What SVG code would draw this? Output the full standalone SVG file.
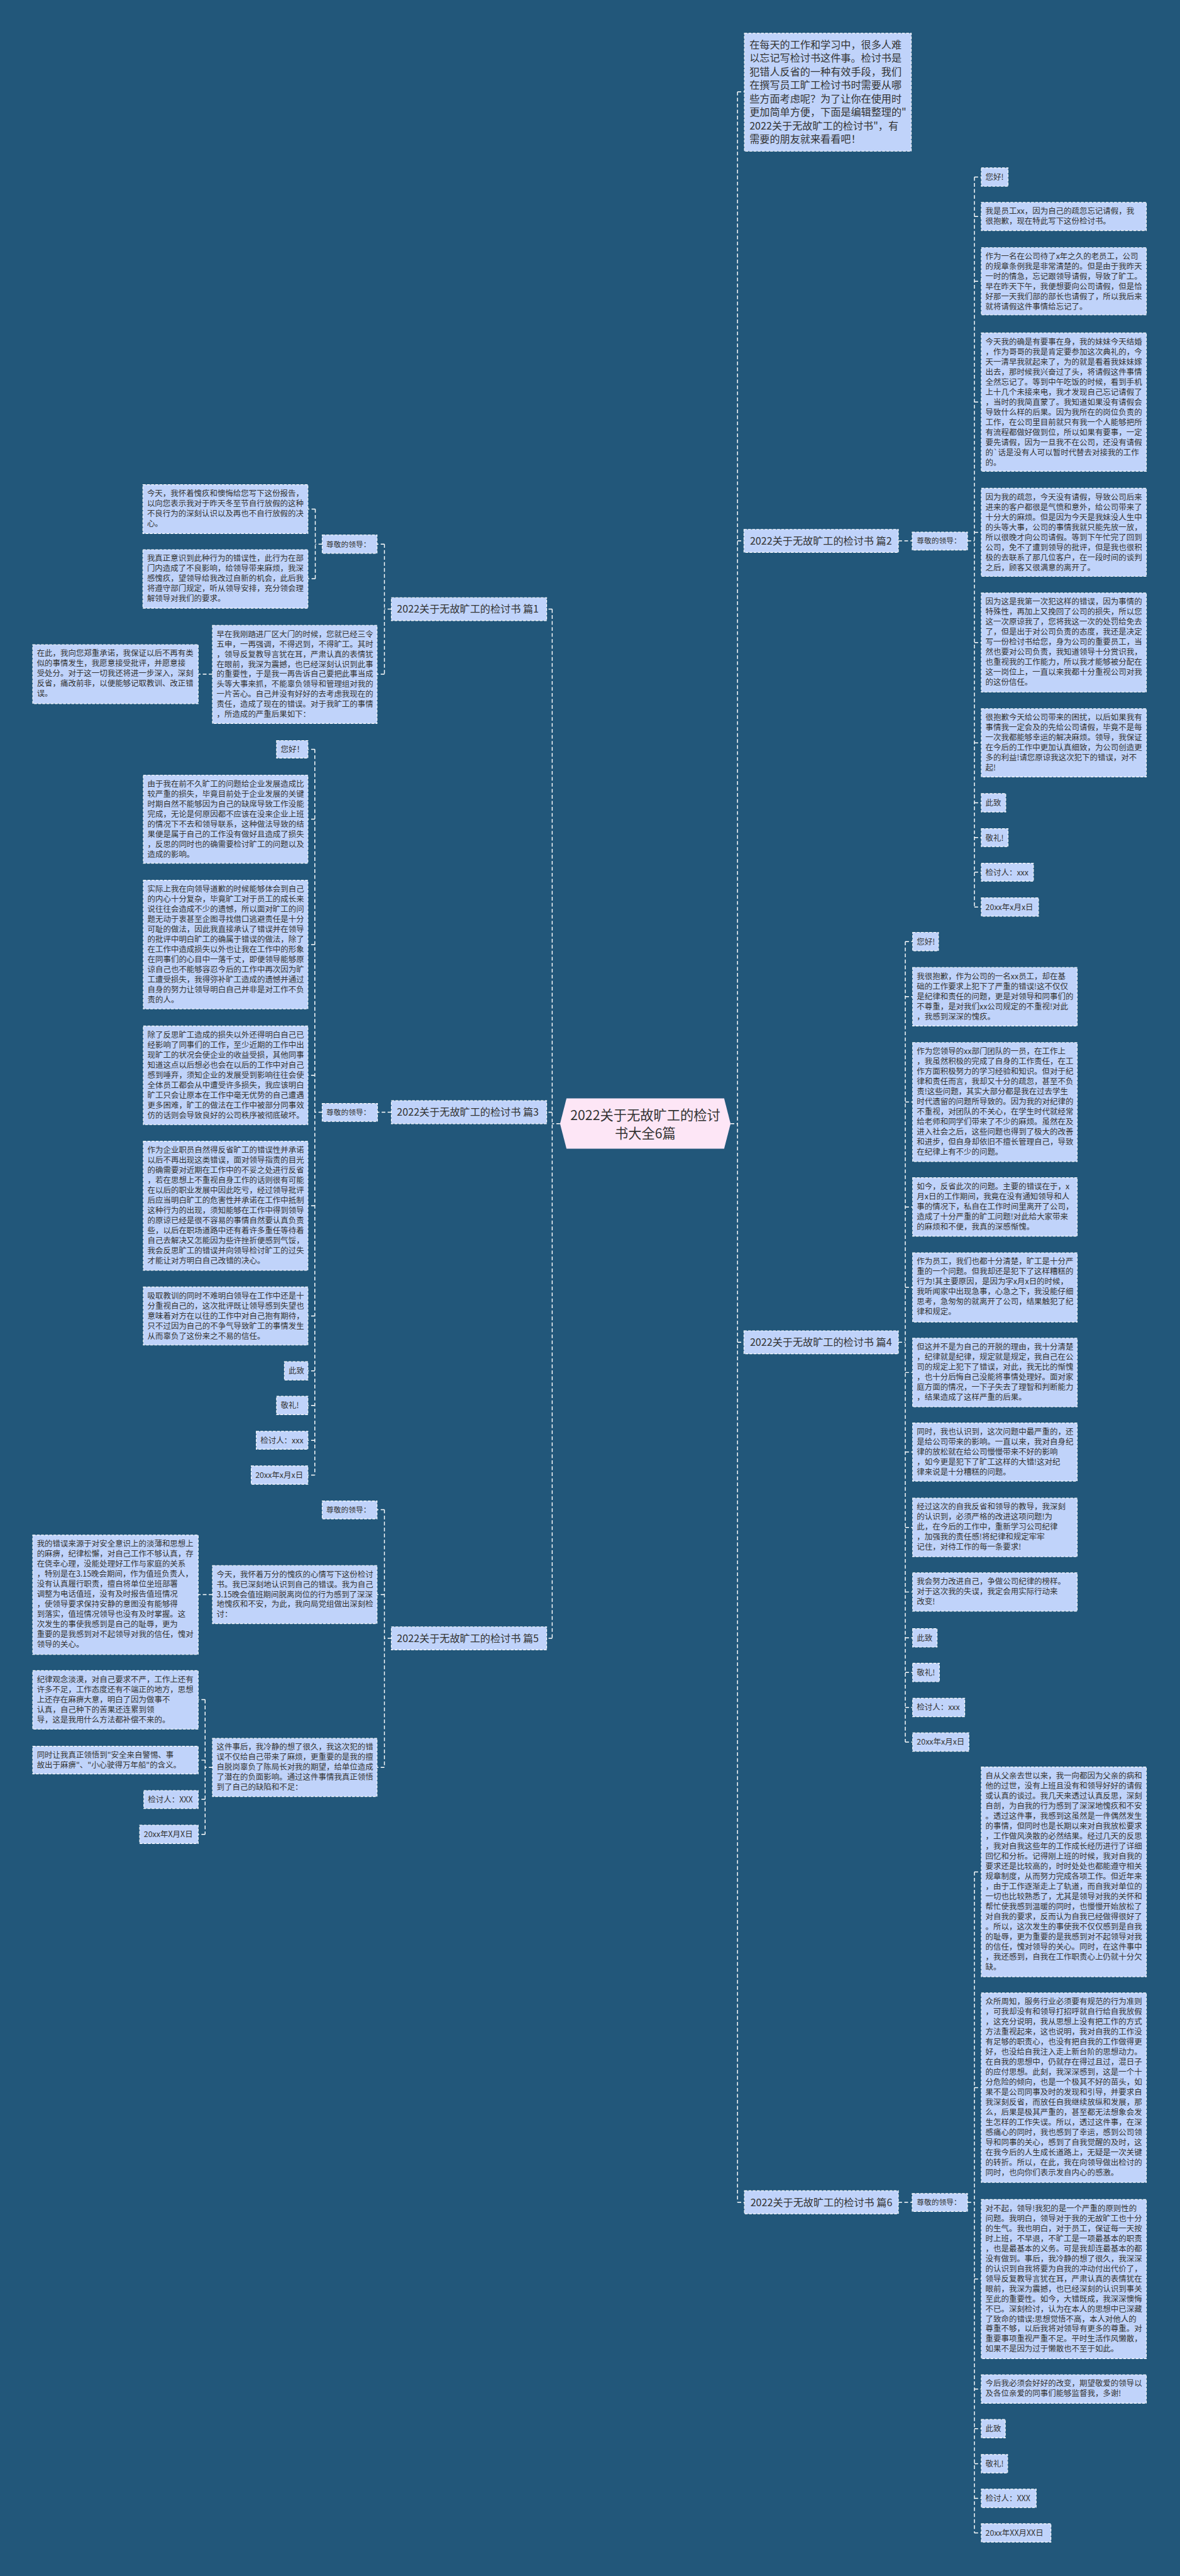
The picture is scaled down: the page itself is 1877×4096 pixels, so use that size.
<svg xmlns="http://www.w3.org/2000/svg" width="1877" height="4096" viewBox="0 0 1877 4096">
<style>
.n{fill:#c0d3fa;stroke:#ffffff;stroke-width:1.6;stroke-dasharray:6 3}
.c{fill:none;stroke:#ffffff;stroke-width:2;stroke-dasharray:8 5}
text{font-family:"Noto Sans CJK SC","Noto Sans",sans-serif;fill:#333333}
.t{font-size:17px}
.s{font-size:16px}
.b{font-size:22px}
.m{font-size:29px}
</style>
<rect width="1877" height="4096" fill="#22577a"/>
<g transform="scale(0.7332)">
<g id="connectors" class="c">
<path d="M1585,2437H1600M1600,199V4776M1600,199H1615M1600,1173H1614M1600,2911H1614M1600,4776H1615"/>
<path d="M1949,1173H1979M2099,1173H2114M2114,384V1967M2114,384H2129M2114,469.5H2129M2114,610H2129M2114,872H2129M2114,1154.5H2129M2114,1393.5H2129M2114,1611H2129M2114,1741H2129M2114,1816.5H2129M2114,1891.5H2129M2114,1967H2129"/>
<path d="M1949,2911H1964M1964,2042V3778M1964,2042H1980M1964,2161.5H1980M1964,2390H1980M1964,2617.5H1980M1964,2792H1980M1964,2976.5H1980M1964,3149H1980M1964,3312.5H1980M1964,3452.5H1980M1964,3552H1980M1964,3627H1980M1964,3703H1980M1964,3778H1980"/>
<path d="M1949,4776H1979M2099,4776H2114M2114,4059.5V5493M2114,4059.5H2129M2114,4527.5H2129M2114,4942.5H2129M2114,5181H2129M2114,5267H2129M2114,5343H2129M2114,5418H2129M2114,5493H2129"/>
<path d="M1215,2437H1198M1198,1321V3553M1198,1321H1186M1198,2412H1186M1198,3553H1186"/>
<path d="M849,1321H834M834,1180V1462M834,1180H818M834,1462H818M699,1180H684M684,1104V1255M684,1104H668M684,1255H668M461,1462H430"/>
<path d="M849,2412H819M699,2412H683M683,1625V3199M683,1625H668M683,1776.5H668M683,2048.5H668M683,2332H668M683,2615H668M683,2854H668M683,2973H668M683,3048H668M683,3123.5H668M683,3199H668"/>
<path d="M849,3553H834M834,3274V3833M834,3274H818M834,3458H818M834,3833H818M461,3458H430M461,3833H445M445,3686V3978M445,3686H430M445,3817H430M445,3902H430M445,3978H430"/>
</g>

<g id="center">
<polygon points="1215,2437 1229,2382 1571,2382 1585,2437 1571,2491 1229,2491" fill="#fde6f6"/>
<text class="m" text-anchor="middle"><tspan x="1400" y="2429">2022关于无故旷工的检讨</tspan><tspan x="1400" y="2468">书大全6篇</tspan></text>
</g>

<g id="intro">
<rect class="n" x="1615" y="72" width="362" height="256"/>
<text class="b"><tspan x="1626" y="105">在每天的工作和学习中，很多人难</tspan><tspan x="1626" dy="29.3">以忘记写检讨书这件事。检讨书是</tspan><tspan x="1626" dy="29.3">犯错人反省的一种有效手段，我们</tspan><tspan x="1626" dy="29.3">在撰写员工旷工检讨书时需要从哪</tspan><tspan x="1626" dy="29.3">些方面考虑呢？为了让你在使用时</tspan><tspan x="1626" dy="29.3">更加简单方便，下面是编辑整理的"</tspan><tspan x="1626" dy="29.3">2022关于无故旷工的检讨书"，有</tspan><tspan x="1626" dy="29.3">需要的朋友就来看看吧！</tspan></text>
</g>

<!-- 篇2 -->
<g id="p2"><rect class="n" x="1614" y="1148" width="335" height="50"/><text class="b" x="1627" y="1181">2022关于无故旷工的检讨书 篇2</text></g>
<g id="p2-lead"><rect class="n" x="1979" y="1154" width="120" height="39"/><text class="s" x="1989" y="1179">尊敬的领导：</text></g>
<g id="p2-1"><rect class="n" x="2129" y="364" width="58" height="40"/><text class="t" x="2138" y="390">您好!</text></g>
<g id="p2-2"><rect class="n" x="2129" y="439" width="358" height="61"/><text class="t"><tspan x="2138" y="464">我是员工xx，因为自己的疏忽忘记请假，我</tspan><tspan x="2138" dy="21.8">很抱歉，现在特此写下这份检讨书。</tspan></text></g>
<g id="p2-3"><rect class="n" x="2129" y="537" width="358" height="146"/><text class="t"><tspan x="2138" y="562">作为一名在公司待了x年之久的老员工，公司</tspan><tspan x="2138" dy="21.8">的规章条例我是非常清楚的。但是由于我昨天</tspan><tspan x="2138" dy="21.8">一时的情急，忘记跟领导请假，导致了旷工。</tspan><tspan x="2138" dy="21.8">早在昨天下午，我便想要向公司请假，但是恰</tspan><tspan x="2138" dy="21.8">好那一天我们部的部长也请假了，所以我后来</tspan><tspan x="2138" dy="21.8">就将请假这件事情给忘记了。</tspan></text></g>
<g id="p2-4"><rect class="n" x="2129" y="722" width="358" height="300"/><text class="t"><tspan x="2138" y="747">今天我的确是有要事在身，我的妹妹今天结婚</tspan><tspan x="2138" dy="21.8">，作为哥哥的我是肯定要参加这次典礼的，今</tspan><tspan x="2138" dy="21.8">天一清早我就起来了，为的就是看着我妹妹嫁</tspan><tspan x="2138" dy="21.8">出去，那时候我兴奋过了头，将请假这件事情</tspan><tspan x="2138" dy="21.8">全然忘记了。等到中午吃饭的时候，看到手机</tspan><tspan x="2138" dy="21.8">上十几个未接来电，我才发现自己忘记请假了</tspan><tspan x="2138" dy="21.8">，当时的我简直蒙了。我知道如果没有请假会</tspan><tspan x="2138" dy="21.8">导致什么样的后果。因为我所在的岗位负责的</tspan><tspan x="2138" dy="21.8">工作，在公司里目前就只有我一个人能够把所</tspan><tspan x="2138" dy="21.8">有流程都做好做到位，所以如果有要事，一定</tspan><tspan x="2138" dy="21.8">要先请假，因为一旦我不在公司，还没有请假</tspan><tspan x="2138" dy="21.8">的`话是没有人可以暂时代替去对接我的工作</tspan><tspan x="2138" dy="21.8">的。</tspan></text></g>
<g id="p2-5"><rect class="n" x="2129" y="1059" width="358" height="191"/><text class="t"><tspan x="2138" y="1084">因为我的疏忽，今天没有请假，导致公司后来</tspan><tspan x="2138" dy="21.8">进来的客户都很是气愤和意外，给公司带来了</tspan><tspan x="2138" dy="21.8">十分大的麻烦。但是因为今天是我妹没人生中</tspan><tspan x="2138" dy="21.8">的头等大事，公司的事情我就只能先放一放，</tspan><tspan x="2138" dy="21.8">所以很晚才向公司请假。等到下午忙完了回到</tspan><tspan x="2138" dy="21.8">公司，免不了遭到领导的批评，但是我也很积</tspan><tspan x="2138" dy="21.8">极的去联系了那几位客户，在一段时间的谈判</tspan><tspan x="2138" dy="21.8">之后，顾客又很满意的离开了。</tspan></text></g>
<g id="p2-6"><rect class="n" x="2129" y="1286" width="358" height="215"/><text class="t"><tspan x="2138" y="1311">因为这是我第一次犯这样的错误，因为事情的</tspan><tspan x="2138" dy="21.8">特殊性，再加上又挽回了公司的损失，所以您</tspan><tspan x="2138" dy="21.8">这一次原谅我了，您将我这一次的处罚给免去</tspan><tspan x="2138" dy="21.8">了，但是出于对公司负责的态度，我还是决定</tspan><tspan x="2138" dy="21.8">写一份检讨书给您，身为公司的重要员工，当</tspan><tspan x="2138" dy="21.8">然也要对公司负责，我知道领导十分赏识我，</tspan><tspan x="2138" dy="21.8">也重视我的工作能力，所以我才能够被分配在</tspan><tspan x="2138" dy="21.8">这一岗位上，一直以来我都十分重视公司对我</tspan><tspan x="2138" dy="21.8">的这份信任。</tspan></text></g>
<g id="p2-7"><rect class="n" x="2129" y="1537" width="358" height="148"/><text class="t"><tspan x="2138" y="1562">很抱歉今天给公司带来的困扰，以后如果我有</tspan><tspan x="2138" dy="21.8">事情我一定会及的先给公司请假，毕竟不是每</tspan><tspan x="2138" dy="21.8">一次我都能够幸运的解决麻烦。领导，我保证</tspan><tspan x="2138" dy="21.8">在今后的工作中更加认真细致，为公司创造更</tspan><tspan x="2138" dy="21.8">多的利益!请您原谅我这次犯下的错误，对不</tspan><tspan x="2138" dy="21.8">起!</tspan></text></g>
<g id="p2-8"><rect class="n" x="2129" y="1721" width="53" height="40"/><text class="t" x="2138" y="1747">此致</text></g>
<g id="p2-9"><rect class="n" x="2129" y="1797" width="58" height="39"/><text class="t" x="2138" y="1823">敬礼!</text></g>
<g id="p2-10"><rect class="n" x="2129" y="1872" width="113" height="39"/><text class="t" x="2138" y="1898">检讨人：xxx</text></g>
<g id="p2-11"><rect class="n" x="2129" y="1947" width="124" height="40"/><text class="t" x="2138" y="1973">20xx年x月x日</text></g>

<!-- 篇4 -->
<g id="p4"><rect class="n" x="1614" y="2886" width="335" height="50"/><text class="b" x="1627" y="2919">2022关于无故旷工的检讨书 篇4</text></g>
<g id="p4-1"><rect class="n" x="1980" y="2022" width="56" height="40"/><text class="t" x="1989" y="2048">您好!</text></g>
<g id="p4-2"><rect class="n" x="1980" y="2098" width="357" height="127"/><text class="t"><tspan x="1989" y="2123">我很抱歉，作为公司的一名xx员工，却在基</tspan><tspan x="1989" dy="21.8">础的工作要求上犯下了严重的错误!这不仅仅</tspan><tspan x="1989" dy="21.8">是纪律和责任的问题，更是对领导和同事们的</tspan><tspan x="1989" dy="21.8">不尊重，是对我们xx公司规定的不重视!对此</tspan><tspan x="1989" dy="21.8">，我感到深深的愧疚。</tspan></text></g>
<g id="p4-3"><rect class="n" x="1980" y="2261" width="357" height="258"/><text class="t"><tspan x="1989" y="2286">作为您领导的xx部门团队的一员，在工作上</tspan><tspan x="1989" dy="21.8">，我虽然积极的完成了自身的工作责任，在工</tspan><tspan x="1989" dy="21.8">作方面积极努力的学习经验和知识。但对于纪</tspan><tspan x="1989" dy="21.8">律和责任而言，我却又十分的疏忽，甚至不负</tspan><tspan x="1989" dy="21.8">责!这些问题，其实大部分都是我在过去学生</tspan><tspan x="1989" dy="21.8">时代遗留的问题所导致的。因为我的对纪律的</tspan><tspan x="1989" dy="21.8">不重视，对团队的不关心，在学生时代就经常</tspan><tspan x="1989" dy="21.8">给老师和同学们带来了不少的麻烦。虽然在及</tspan><tspan x="1989" dy="21.8">进入社会之后，这些问题也得到了极大的改善</tspan><tspan x="1989" dy="21.8">和进步，但自身却依旧不擅长管理自己，导致</tspan><tspan x="1989" dy="21.8">在纪律上有不少的问题。</tspan></text></g>
<g id="p4-4"><rect class="n" x="1980" y="2554" width="357" height="127"/><text class="t"><tspan x="1989" y="2579">如今，反省此次的问题。主要的错误在于，x</tspan><tspan x="1989" dy="21.8">月x日的工作期间，我竟在没有通知领导和人</tspan><tspan x="1989" dy="21.8">事的情况下，私自在工作时间里离开了公司，</tspan><tspan x="1989" dy="21.8">造成了十分严重的旷工问题!对此给大家带来</tspan><tspan x="1989" dy="21.8">的麻烦和不便，我真的深感惭愧。</tspan></text></g>
<g id="p4-5"><rect class="n" x="1980" y="2717" width="357" height="150"/><text class="t"><tspan x="1989" y="2742">作为员工，我们也都十分清楚，旷工是十分严</tspan><tspan x="1989" dy="21.8">重的一个问题。但我却还是犯下了这样糟糕的</tspan><tspan x="1989" dy="21.8">行为!其主要原因，是因为字x月x日的时候，</tspan><tspan x="1989" dy="21.8">我听闻家中出现急事，心急之下，我没能仔细</tspan><tspan x="1989" dy="21.8">思考，急匆匆的就离开了公司，结果触犯了纪</tspan><tspan x="1989" dy="21.8">律和规定。</tspan></text></g>
<g id="p4-6"><rect class="n" x="1980" y="2902" width="357" height="149"/><text class="t"><tspan x="1989" y="2927">但这并不是为自己的开脱的理由，我十分清楚</tspan><tspan x="1989" dy="21.8">，纪律就是纪律，规定就是规定，我自己在公</tspan><tspan x="1989" dy="21.8">司的规定上犯下了错误，对此，我无比的惭愧</tspan><tspan x="1989" dy="21.8">，也十分后悔自己没能将事情处理好。面对家</tspan><tspan x="1989" dy="21.8">庭方面的情况，一下子失去了理智和判断能力</tspan><tspan x="1989" dy="21.8">，结果造成了这样严重的后果。</tspan></text></g>
<g id="p4-7"><rect class="n" x="1980" y="3086" width="357" height="126"/><text class="t"><tspan x="1989" y="3111">同时，我也认识到，这次问题中最严重的，还</tspan><tspan x="1989" dy="21.8">是给公司带来的影响。一直以来，我对自身纪</tspan><tspan x="1989" dy="21.8">律的放松就在给公司慢慢带来不好的影响</tspan><tspan x="1989" dy="21.8">，如今更是犯下了旷工这样的大错!这对纪</tspan><tspan x="1989" dy="21.8">律来说是十分糟糕的问题。</tspan></text></g>
<g id="p4-8"><rect class="n" x="1980" y="3249" width="357" height="127"/><text class="t"><tspan x="1989" y="3274">经过这次的自我反省和领导的教导，我深刻</tspan><tspan x="1989" dy="21.8">的认识到，必须严格的改进这项问题!为</tspan><tspan x="1989" dy="21.8">此，在今后的工作中，重新学习公司纪律</tspan><tspan x="1989" dy="21.8">，加强我的责任感!将纪律和规定牢牢</tspan><tspan x="1989" dy="21.8">记住，对待工作的每一条要求!</tspan></text></g>
<g id="p4-9"><rect class="n" x="1980" y="3411" width="357" height="83"/><text class="t"><tspan x="1989" y="3436">我会努力改进自己，争做公司纪律的榜样。</tspan><tspan x="1989" dy="21.8">对于这次我的失误，我定会用实际行动来</tspan><tspan x="1989" dy="21.8">改变!</tspan></text></g>
<g id="p4-10"><rect class="n" x="1980" y="3532" width="53" height="40"/><text class="t" x="1989" y="3558">此致</text></g>
<g id="p4-11"><rect class="n" x="1980" y="3607" width="58" height="40"/><text class="t" x="1989" y="3633">敬礼!</text></g>
<g id="p4-12"><rect class="n" x="1980" y="3683" width="113" height="40"/><text class="t" x="1989" y="3709">检讨人：xxx</text></g>
<g id="p4-13"><rect class="n" x="1980" y="3758" width="122" height="40"/><text class="t" x="1989" y="3784">20xx年x月x日</text></g>

<!-- 篇6 -->
<g id="p6"><rect class="n" x="1615" y="4751" width="334" height="50"/><text class="b" x="1628" y="4784">2022关于无故旷工的检讨书 篇6</text></g>
<g id="p6-lead"><rect class="n" x="1979" y="4757" width="120" height="39"/><text class="s" x="1989" y="4782">尊敬的领导：</text></g>
<g id="p6-1"><rect class="n" x="2129" y="3832" width="358" height="455"/><text class="t"><tspan x="2138" y="3857">自从父亲去世以来，我一向都因为父亲的病和</tspan><tspan x="2138" dy="21.8">他的过世，没有上班且没有和领导好好的请假</tspan><tspan x="2138" dy="21.8">或认真的谈过。我几天来透过认真反思，深刻</tspan><tspan x="2138" dy="21.8">自剖，为自我的行为感到了深深地愧疚和不安</tspan><tspan x="2138" dy="21.8">。透过这件事，我感到这虽然是一件偶然发生</tspan><tspan x="2138" dy="21.8">的事情，但同时也是长期以来对自我放松要求</tspan><tspan x="2138" dy="21.8">，工作做风涣散的必然结果。经过几天的反思</tspan><tspan x="2138" dy="21.8">，我对自我这些年的工作成长经历进行了详细</tspan><tspan x="2138" dy="21.8">回忆和分析。记得刚上班的时候，我对自我的</tspan><tspan x="2138" dy="21.8">要求还是比较高的，时时处处也都能遵守相关</tspan><tspan x="2138" dy="21.8">规章制度，从而努力完成各项工作。但近年来</tspan><tspan x="2138" dy="21.8">，由于工作逐渐走上了轨道，而自我对单位的</tspan><tspan x="2138" dy="21.8">一切也比较熟悉了，尤其是领导对我的关怀和</tspan><tspan x="2138" dy="21.8">帮忙使我感到温暖的同时，也慢慢开始放松了</tspan><tspan x="2138" dy="21.8">对自我的要求，反而认为自我已经做得很好了</tspan><tspan x="2138" dy="21.8">。所以，这次发生的事使我不仅仅感到是自我</tspan><tspan x="2138" dy="21.8">的耻辱，更为重要的是我感到对不起领导对我</tspan><tspan x="2138" dy="21.8">的信任，愧对领导的关心。同时，在这件事中</tspan><tspan x="2138" dy="21.8">，我还感到，自我在工作职责心上仍就十分欠</tspan><tspan x="2138" dy="21.8">缺。</tspan></text></g>
<g id="p6-2"><rect class="n" x="2129" y="4322" width="358" height="411"/><text class="t"><tspan x="2138" y="4347">众所周知，服务行业必须要有规范的行为准则</tspan><tspan x="2138" dy="21.8">，可我却没有和领导打招呼就自行给自我放假</tspan><tspan x="2138" dy="21.8">，这充分说明，我从思想上没有把工作的方式</tspan><tspan x="2138" dy="21.8">方法重视起来，这也说明，我对自我的工作没</tspan><tspan x="2138" dy="21.8">有足够的职责心，也没有把自我的工作做得更</tspan><tspan x="2138" dy="21.8">好，也没给自我注入走上新台阶的思想动力。</tspan><tspan x="2138" dy="21.8">在自我的思想中，仍就存在得过且过，混日子</tspan><tspan x="2138" dy="21.8">的应付思想。此刻，我深深感到，这是一个十</tspan><tspan x="2138" dy="21.8">分危险的倾向，也是一个极其不好的苗头，如</tspan><tspan x="2138" dy="21.8">果不是公司同事及时的发现和引导，并要求自</tspan><tspan x="2138" dy="21.8">我深刻反省，而放任自我继续放纵和发展，那</tspan><tspan x="2138" dy="21.8">么，后果是极其严重的，甚至都无法想象会发</tspan><tspan x="2138" dy="21.8">生怎样的工作失误。所以，透过这件事，在深</tspan><tspan x="2138" dy="21.8">感痛心的同时，我也感到了幸运，感到公司领</tspan><tspan x="2138" dy="21.8">导和同事的关心，感到了自我觉醒的及时，这</tspan><tspan x="2138" dy="21.8">在我今后的人生成长道路上，无疑是一次关键</tspan><tspan x="2138" dy="21.8">的转折。所以，在此，我在向领导做出检讨的</tspan><tspan x="2138" dy="21.8">同时，也向你们表示发自内心的感激。</tspan></text></g>
<g id="p6-3"><rect class="n" x="2129" y="4770" width="358" height="345"/><text class="t"><tspan x="2138" y="4795">对不起，领导!我犯的是一个严重的原则性的</tspan><tspan x="2138" dy="21.8">问题。我明白，领导对于我的无故旷工也十分</tspan><tspan x="2138" dy="21.8">的生气。我也明白，对于员工，保证每一天按</tspan><tspan x="2138" dy="21.8">时上班，不早退，不旷工是一项最基本的职责</tspan><tspan x="2138" dy="21.8">，也是最基本的义务。可是我却连最基本的都</tspan><tspan x="2138" dy="21.8">没有做到。事后，我冷静的想了很久，我深深</tspan><tspan x="2138" dy="21.8">的认识到自我将要为自我的冲动付出代价了，</tspan><tspan x="2138" dy="21.8">领导反复教导言犹在耳，严肃认真的表情犹在</tspan><tspan x="2138" dy="21.8">眼前，我深为震撼，也已经深刻的认识到事关</tspan><tspan x="2138" dy="21.8">至此的重要性。如今，大错既成，我深深懊悔</tspan><tspan x="2138" dy="21.8">不已。深刻检讨，认为在本人的思想中已深藏</tspan><tspan x="2138" dy="21.8">了致命的错误:思想觉悟不高，本人对他人的</tspan><tspan x="2138" dy="21.8">尊重不够，以后我将对领导有更多的尊重。对</tspan><tspan x="2138" dy="21.8">重要事项重视严重不足。平时生活作风懒散，</tspan><tspan x="2138" dy="21.8">如果不是因为过于懒散也不至于如此。</tspan></text></g>
<g id="p6-4"><rect class="n" x="2129" y="5150" width="358" height="62"/><text class="t"><tspan x="2138" y="5175">今后我必须会好好的改变，期望敬爱的领导以</tspan><tspan x="2138" dy="21.8">及各位亲爱的同事们能够监督我，多谢!</tspan></text></g>
<g id="p6-5"><rect class="n" x="2129" y="5247" width="52" height="40"/><text class="t" x="2138" y="5273">此致</text></g>
<g id="p6-6"><rect class="n" x="2129" y="5323" width="57" height="40"/><text class="t" x="2138" y="5349">敬礼!</text></g>
<g id="p6-7"><rect class="n" x="2129" y="5398" width="119" height="40"/><text class="t" x="2138" y="5424">检讨人：XXX</text></g>
<g id="p6-8"><rect class="n" x="2129" y="5473" width="151" height="40"/><text class="t" x="2138" y="5499">20xx年XX月XX日</text></g>

<!-- 篇1 -->
<g id="p1"><rect class="n" x="849" y="1296" width="337" height="50"/><text class="b" x="861" y="1329">2022关于无故旷工的检讨书 篇1</text></g>
<g id="p1-lead"><rect class="n" x="699" y="1160" width="119" height="40"/><text class="s" x="708" y="1186">尊敬的领导：</text></g>
<g id="p1-1"><rect class="n" x="310" y="1051" width="358" height="106"/><text class="t"><tspan x="319" y="1076">今天，我怀着愧疚和懊悔给您写下这份报告，</tspan><tspan x="319" dy="21.8">以向您表示我对于昨天冬至节自行放假的这种</tspan><tspan x="319" dy="21.8">不良行为的深刻认识以及再也不自行放假的决</tspan><tspan x="319" dy="21.8">心。</tspan></text></g>
<g id="p1-2"><rect class="n" x="310" y="1192" width="358" height="127"/><text class="t"><tspan x="319" y="1217">我真正意识到此种行为的错误性，此行为在部</tspan><tspan x="319" dy="21.8">门内造成了不良影响，给领导带来麻烦，我深</tspan><tspan x="319" dy="21.8">感愧疚，望领导给我改过自新的机会，此后我</tspan><tspan x="319" dy="21.8">将遵守部门规定，听从领导安排，充分领会理</tspan><tspan x="319" dy="21.8">解领导对我们的要求。</tspan></text></g>
<g id="p1-3"><rect class="n" x="461" y="1356" width="357" height="213"/><text class="t"><tspan x="470" y="1381">早在我刚踏进厂区大门的时候，您就已经三令</tspan><tspan x="470" dy="21.8">五申，一再强调，不得迟到，不得旷工。其时</tspan><tspan x="470" dy="21.8">，领导反复教导言犹在耳，严肃认真的表情犹</tspan><tspan x="470" dy="21.8">在眼前，我深为震撼，也已经深刻认识到此事</tspan><tspan x="470" dy="21.8">的重要性，于是我一再告诉自己要把此事当成</tspan><tspan x="470" dy="21.8">头等大事来抓，不能辜负领导和管理组对我的</tspan><tspan x="470" dy="21.8">一片苦心。自己并没有好好的去考虑我现在的</tspan><tspan x="470" dy="21.8">责任，造成了现在的错误。对于我旷工的事情</tspan><tspan x="470" dy="21.8">，所造成的严重后果如下：</tspan></text></g>
<g id="p1-4"><rect class="n" x="71" y="1398" width="359" height="128"/><text class="t"><tspan x="80" y="1423">在此，我向您郑重承诺，我保证以后不再有类</tspan><tspan x="80" dy="21.8">似的事情发生，我愿意接受批评，并愿意接</tspan><tspan x="80" dy="21.8">受处分。对于这一切我还将进一步深入，深刻</tspan><tspan x="80" dy="21.8">反省，痛改前非，以便能够记取教训、改正错</tspan><tspan x="80" dy="21.8">误。</tspan></text></g>

<!-- 篇3 -->
<g id="p3"><rect class="n" x="849" y="2387" width="337" height="50"/><text class="b" x="861" y="2420">2022关于无故旷工的检讨书 篇3</text></g>
<g id="p3-lead"><rect class="n" x="699" y="2393" width="120" height="39"/><text class="s" x="708" y="2418">尊敬的领导：</text></g>
<g id="p3-1"><rect class="n" x="600" y="1606" width="68" height="38"/><text class="t" x="609" y="1631">您好！</text></g>
<g id="p3-2"><rect class="n" x="311" y="1681" width="357" height="191"/><text class="t"><tspan x="320" y="1706">由于我在前不久旷工的问题给企业发展造成比</tspan><tspan x="320" dy="21.8">较严重的损失，毕竟目前处于企业发展的关键</tspan><tspan x="320" dy="21.8">时期自然不能够因为自己的缺席导致工作没能</tspan><tspan x="320" dy="21.8">完成，无论是何原因都不应该在没来企业上班</tspan><tspan x="320" dy="21.8">的情况下不去和领导联系，这种做法导致的结</tspan><tspan x="320" dy="21.8">果便是属于自己的工作没有做好且造成了损失</tspan><tspan x="320" dy="21.8">，反思的同时也的确需要检讨旷工的问题以及</tspan><tspan x="320" dy="21.8">造成的影响。</tspan></text></g>
<g id="p3-3"><rect class="n" x="311" y="1909" width="357" height="279"/><text class="t"><tspan x="320" y="1934">实际上我在向领导道歉的时候能够体会到自己</tspan><tspan x="320" dy="21.8">的内心十分复杂，毕竟旷工对于员工的成长来</tspan><tspan x="320" dy="21.8">说往往会造成不少的遗憾，所以面对旷工的问</tspan><tspan x="320" dy="21.8">题无动于衷甚至企图寻找借口逃避责任是十分</tspan><tspan x="320" dy="21.8">可耻的做法，因此我直接承认了错误并在领导</tspan><tspan x="320" dy="21.8">的批评中明白旷工的确属于错误的做法，除了</tspan><tspan x="320" dy="21.8">在工作中造成损失以外也让我在工作中的形象</tspan><tspan x="320" dy="21.8">在同事们的心目中一落千丈，即便领导能够原</tspan><tspan x="320" dy="21.8">谅自己也不能够容忍今后的工作中再次因为旷</tspan><tspan x="320" dy="21.8">工遭受损失，我得弥补旷工造成的遗憾并通过</tspan><tspan x="320" dy="21.8">自身的努力让领导明白自己并非是对工作不负</tspan><tspan x="320" dy="21.8">责的人。</tspan></text></g>
<g id="p3-4"><rect class="n" x="311" y="2225" width="357" height="214"/><text class="t"><tspan x="320" y="2250">除了反思旷工造成的损失以外还得明白自己已</tspan><tspan x="320" dy="21.8">经影响了同事们的工作，至少近期的工作中出</tspan><tspan x="320" dy="21.8">现旷工的状况会使企业的收益受损，其他同事</tspan><tspan x="320" dy="21.8">知道这点以后想必也会在以后的工作中对自己</tspan><tspan x="320" dy="21.8">感到唾弃，须知企业的发展受到影响往往会使</tspan><tspan x="320" dy="21.8">全体员工都会从中遭受许多损失，我应该明白</tspan><tspan x="320" dy="21.8">旷工只会让原本在工作中毫无优势的自己遭遇</tspan><tspan x="320" dy="21.8">更多困难，旷工的做法在工作中被部分同事效</tspan><tspan x="320" dy="21.8">仿的话则会导致良好的公司秩序被彻底破坏。</tspan></text></g>
<g id="p3-5"><rect class="n" x="311" y="2475" width="357" height="280"/><text class="t"><tspan x="320" y="2500">作为企业职员自然得反省旷工的错误性并承诺</tspan><tspan x="320" dy="21.8">以后不再出现这类错误，面对领导指责的目光</tspan><tspan x="320" dy="21.8">的确需要对近期在工作中的不妥之处进行反省</tspan><tspan x="320" dy="21.8">，若在思想上不重视自身工作的话则很有可能</tspan><tspan x="320" dy="21.8">在以后的职业发展中因此吃亏，经过领导批评</tspan><tspan x="320" dy="21.8">后应当明白旷工的危害性并承诺在工作中抵制</tspan><tspan x="320" dy="21.8">这种行为的出现，须知能够在工作中得到领导</tspan><tspan x="320" dy="21.8">的原谅已经是很不容易的事情自然要认真负责</tspan><tspan x="320" dy="21.8">些，以后在职场道路中还有着许多重任等待着</tspan><tspan x="320" dy="21.8">自己去解决又怎能因为些许挫折便感到气馁，</tspan><tspan x="320" dy="21.8">我会反思旷工的错误并向领导检讨旷工的过失</tspan><tspan x="320" dy="21.8">才能让对方明白自己改错的决心。</tspan></text></g>
<g id="p3-6"><rect class="n" x="311" y="2791" width="357" height="126"/><text class="t"><tspan x="320" y="2816">吸取教训的同时不难明白领导在工作中还是十</tspan><tspan x="320" dy="21.8">分重视自己的，这次批评既让领导感到失望也</tspan><tspan x="320" dy="21.8">意味着对方在以往的工作中对自己抱有期待，</tspan><tspan x="320" dy="21.8">只不过因为自己的不争气导致旷工的事情发生</tspan><tspan x="320" dy="21.8">从而辜负了这份来之不易的信任。</tspan></text></g>
<g id="p3-7"><rect class="n" x="617" y="2953" width="51" height="40"/><text class="t" x="626" y="2979">此致</text></g>
<g id="p3-8"><rect class="n" x="600" y="3028" width="68" height="40"/><text class="t" x="609" y="3054">敬礼!</text></g>
<g id="p3-9"><rect class="n" x="556" y="3104" width="112" height="39"/><text class="t" x="565" y="3130">检讨人：xxx</text></g>
<g id="p3-10"><rect class="n" x="545" y="3179" width="123" height="40"/><text class="t" x="554" y="3205">20xx年x月x日</text></g>

<!-- 篇5 -->
<g id="p5"><rect class="n" x="849" y="3528" width="337" height="50"/><text class="b" x="861" y="3561">2022关于无故旷工的检讨书 篇5</text></g>
<g id="p5-lead"><rect class="n" x="699" y="3255" width="119" height="39"/><text class="s" x="708" y="3280">尊敬的领导：</text></g>
<g id="p5-1"><rect class="n" x="461" y="3395" width="357" height="126"/><text class="t"><tspan x="470" y="3420">今天，我怀着万分的愧疚的心情写下这份检讨</tspan><tspan x="470" dy="21.8">书。我已深刻地认识到自己的错误。我为自己</tspan><tspan x="470" dy="21.8">3.15晚会值班期间脱离岗位的行为感到了深深</tspan><tspan x="470" dy="21.8">地愧疚和不安，为此，我向局党组做出深刻检</tspan><tspan x="470" dy="21.8">讨：</tspan></text></g>
<g id="p5-2"><rect class="n" x="461" y="3770" width="357" height="126"/><text class="t"><tspan x="470" y="3795">这件事后，我冷静的想了很久，我这次犯的错</tspan><tspan x="470" dy="21.8">误不仅给自己带来了麻烦，更重要的是我的擅</tspan><tspan x="470" dy="21.8">自脱岗辜负了陈局长对我的期望，给单位造成</tspan><tspan x="470" dy="21.8">了潜在的负面影响。通过这件事情我真正领悟</tspan><tspan x="470" dy="21.8">到了自己的缺陷和不足：</tspan></text></g>
<g id="p5-3"><rect class="n" x="71" y="3329" width="359" height="259"/><text class="t"><tspan x="80" y="3354">我的错误来源于对安全意识上的淡薄和思想上</tspan><tspan x="80" dy="21.8">的麻痹，纪律松懈，对自己工作不够认真，存</tspan><tspan x="80" dy="21.8">在侥幸心理，没能处理好工作与家庭的关系</tspan><tspan x="80" dy="21.8">，特别是在3.15晚会期间，作为值班负责人，</tspan><tspan x="80" dy="21.8">没有认真履行职责，擅自将单位坐班部署</tspan><tspan x="80" dy="21.8">调整为电话值班，没有及时报告值班情况</tspan><tspan x="80" dy="21.8">，使领导要求保持安静的意图没有能够得</tspan><tspan x="80" dy="21.8">到落实，值班情况领导也没有及时掌握。这</tspan><tspan x="80" dy="21.8">次发生的事使我感到是自己的耻辱，更为</tspan><tspan x="80" dy="21.8">重要的是我感到对不起领导对我的信任，愧对</tspan><tspan x="80" dy="21.8">领导的关心。</tspan></text></g>
<g id="p5-4"><rect class="n" x="71" y="3623" width="359" height="127"/><text class="t"><tspan x="80" y="3648">纪律观念淡漠，对自己要求不严，工作上还有</tspan><tspan x="80" dy="21.8">许多不足，工作态度还有不端正的地方，思想</tspan><tspan x="80" dy="21.8">上还存在麻痹大意，明白了因为做事不</tspan><tspan x="80" dy="21.8">认真，自己种下的苦果还连累到领</tspan><tspan x="80" dy="21.8">导，这是我用什么方法都补偿不来的。</tspan></text></g>
<g id="p5-5"><rect class="n" x="71" y="3787" width="359" height="60"/><text class="t"><tspan x="80" y="3812">同时让我真正领悟到"安全来自警惕、事</tspan><tspan x="80" dy="21.8">故出于麻痹"、"小心驶得万年船"的含义。</tspan></text></g>
<g id="p5-6"><rect class="n" x="312" y="3883" width="118" height="39"/><text class="t" x="321" y="3909">检讨人：XXX</text></g>
<g id="p5-7"><rect class="n" x="303" y="3958" width="127" height="40"/><text class="t" x="312" y="3984">20xx年X月X日</text></g>
</g>
</svg>
